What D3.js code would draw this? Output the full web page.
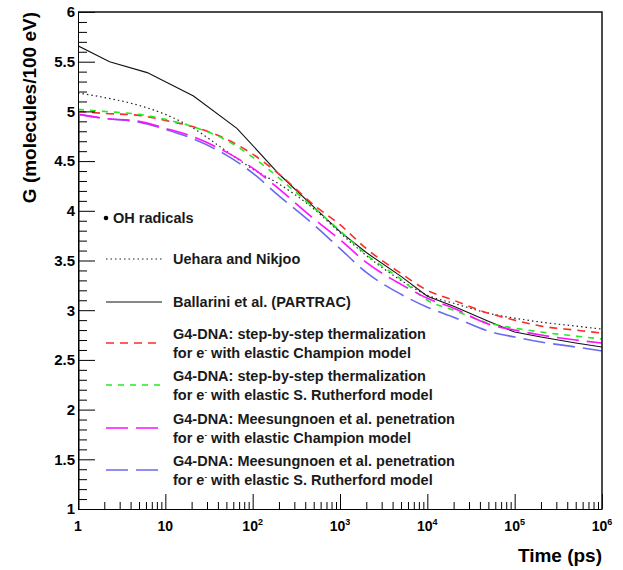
<!DOCTYPE html>
<html>
<head>
<meta charset="utf-8">
<script src="https://cdn.jsdelivr.net/npm/d3@7"></script>
<style>
  body { margin: 0; background: #fff; }
  svg { display: block; font-family: 'Liberation Sans', Arial, sans-serif; font-weight: bold; }
</style>
</head>
<body>
<script>
// OH radical yield vs time

var times = [1, 2, 5, 10, 20, 50, 100, 200, 500, 1000, 2000, 5000, 1e4, 2e4, 5e4, 1e5, 2e5, 5e5, 1e6];

var stepChampion   = [5.00, 4.98, 4.96, 4.91, 4.85, 4.72, 4.57, 4.37, 4.06, 3.86, 3.62, 3.37, 3.20, 3.10, 2.97, 2.90, 2.84, 2.80, 2.77];
var stepRutherford = [5.02, 5.00, 4.97, 4.92, 4.85, 4.71, 4.54, 4.33, 4.03, 3.80, 3.56, 3.31, 3.10, 3.00, 2.87, 2.82, 2.78, 2.74, 2.71];
var penChampion    = [4.97, 4.93, 4.90, 4.83, 4.75, 4.59, 4.43, 4.22, 3.92, 3.71, 3.48, 3.26, 3.12, 3.02, 2.86, 2.80, 2.75, 2.70, 2.67];
var penRutherford  = [4.97, 4.93, 4.89, 4.82, 4.73, 4.56, 4.38, 4.15, 3.86, 3.62, 3.38, 3.16, 3.03, 2.93, 2.79, 2.73, 2.68, 2.63, 2.59];
var uehara         = [5.185, 5.14, 5.06, 4.97, 4.84, 4.60, 4.42, 4.27, 4.02, 3.78, 3.55, 3.30, 3.15, 3.07, 2.97, 2.92, 2.88, 2.84, 2.81];

var ballariniTimes = [1, 2.3, 6.2, 21, 66, 200, 500, 1000, 2000, 5000, 1e4, 2e4, 5e4, 1e5, 2e5, 5e5, 1e6];
var ballarini      = [5.66, 5.50, 5.39, 5.155, 4.83, 4.37, 4.04, 3.79, 3.58, 3.34, 3.14, 3.04, 2.89, 2.78, 2.73, 2.67, 2.63];

var yMajor = [1, 1.5, 2, 2.5, 3, 3.5, 4, 4.5, 5, 5.5, 6];
var xMajor = [1, 10, 100, 1000, 1e4, 1e5, 1e6];
var xLabels = ['1', '10', '10|2', '10|3', '10|4', '10|5', '10|6'];

var legendText = [
  ['Uehara and Nikjoo'],
  ['Ballarini et al. (PARTRAC)'],
  ['G4-DNA: step-by-step thermalization', 'for e| with elastic Champion model'],
  ['G4-DNA: step-by-step thermalization', 'for e| with elastic S. Rutherford model'],
  ['G4-DNA: Meesungnoen et al. penetration', 'for e| with elastic Champion model'],
  ['G4-DNA: Meesungnoen et al. penetration', 'for e| with elastic S. Rutherford model']
];

var width = 623, height = 570;
var pLeft = 78, pRight = 602, pTop = 12, pBottom = 509;

var svg = d3.select('body').append('svg')
  .attr('width', width)
  .attr('height', height);

var x = d3.scaleLog().domain([1, 1e6]).range([pLeft, pRight]);
var y = d3.scaleLinear().domain([1, 6]).range([pBottom, pTop]);

svg.append('clipPath').attr('id', 'plot')
  .append('rect')
  .attr('x', pLeft).attr('y', pTop)
  .attr('width', pRight - pLeft).attr('height', pBottom - pTop);

// series
var series = [
  { t: times, g: uehara, color: '#222', dash: '1.5,3', w: 1.2, curve: d3.curveMonotoneX },
  { t: ballariniTimes, g: ballarini, color: '#111', dash: null, w: 1.1, curve: d3.curveLinear },
  { t: times, g: stepChampion, color: '#ff2a2a', dash: '8,6', w: 1.6, curve: d3.curveMonotoneX, drop: true },
  { t: times, g: stepRutherford, color: '#22ee22', dash: '6,6', w: 1.6, curve: d3.curveMonotoneX, drop: true },
  { t: times, g: penRutherford, color: '#6a6af0', dash: '22,8', w: 1.6, curve: d3.curveMonotoneX, drop: true },
  { t: times, g: penChampion, color: '#ff11ff', dash: '22,8', w: 1.6, curve: d3.curveMonotoneX, drop: true }
];

var plot = svg.append('g').attr('clip-path', 'url(#plot)');

series.forEach(function(s) {
  var pts = s.t.map(function(t, i) { return [t, s.g[i]]; });
  var line = d3.line()
    .x(function(d) { return x(d[0]); })
    .y(function(d) { return y(d[1]); })
    .curve(s.curve);
  plot.append('path')
    .attr('d', line(pts))
    .attr('fill', 'none')
    .attr('stroke', s.color)
    .attr('stroke-width', s.w)
    .attr('stroke-dasharray', s.dash);
  if (s.drop) {
    // histograms rise from zero at the first bin
    plot.append('path')
      .attr('d', d3.line()([[x(1) + 0.8, y(1)], [x(1) + 0.8, y(s.g[0])]]))
      .attr('stroke', s.color)
      .attr('stroke-width', 1.6);
  }
});

// y axis
var yMinor = d3.range(10, 61).map(function(v) { return v / 10; })
  .filter(function(v) { return yMajor.indexOf(v) < 0; });

svg.append('g')
  .attr('transform', 'translate(' + pLeft + ',0)')
  .call(d3.axisLeft(y).tickValues(yMinor).tickSizeInner(-9).tickSizeOuter(0).tickFormat(''))
  .call(function(g) { g.select('.domain').remove(); });

var yAxis = svg.append('g')
  .attr('transform', 'translate(' + pLeft + ',0)')
  .call(d3.axisLeft(y).tickValues(yMajor).tickSizeInner(-17).tickSizeOuter(0).tickPadding(3)
    .tickFormat(function(d) { return d; }));
yAxis.selectAll('text').attr('font-size', 15).attr('font-family', null).attr('fill', '#000');
yAxis.selectAll('line, path').attr('stroke', '#000');

// x axis
var xMinor = [];
for (var dec = 1; dec < 1e6; dec *= 10) {
  for (var k = 2; k < 10; k++) xMinor.push(dec * k);
}

svg.append('g')
  .attr('transform', 'translate(0,' + pBottom + ')')
  .call(d3.axisBottom(x).tickValues(xMinor).tickSizeInner(-7).tickSizeOuter(0).tickFormat(''))
  .call(function(g) { g.select('.domain').remove(); });

var xAxis = svg.append('g')
  .attr('transform', 'translate(0,' + pBottom + ')')
  .call(d3.axisBottom(x).tickValues(xMajor).tickSizeInner(-15).tickSizeOuter(0).tickFormat(''));
xAxis.selectAll('line, path').attr('stroke', '#000');

svg.selectAll('.xlab').data(xMajor).enter().append('text')
  .attr('class', 'xlab')
  .attr('x', function(d) { return x(d); })
  .attr('y', pBottom + 22)
  .attr('text-anchor', 'middle')
  .attr('font-size', 14)
  .each(function(d, i) {
    var parts = xLabels[i].split('|');
    var t = d3.select(this);
    t.append('tspan').text(parts[0]);
    if (parts[1]) t.append('tspan').attr('dy', -6).attr('font-size', 9).text(parts[1]);
  });

// frame top and right
svg.append('path')
  .attr('d', d3.line()([[pLeft, pTop], [pRight, pTop], [pRight, pBottom]]))
  .attr('fill', 'none')
  .attr('stroke', '#111')
  .attr('stroke-width', 1.5);

// titles
svg.append('text')
  .attr('transform', 'translate(36,' + pTop + ') rotate(-90)')
  .attr('text-anchor', 'end')
  .attr('font-size', 19)
  .text('G (molecules/100 eV)');

svg.append('text')
  .attr('x', pRight)
  .attr('y', 562)
  .attr('text-anchor', 'end')
  .attr('font-size', 19)
  .text('Time (ps)');

// legend
var legend = svg.append('g').attr('fill', '#1a1a1a').attr('font-size', 14.5);

legend.append('circle').attr('cx', 106).attr('cy', 218).attr('r', 2.3).attr('fill', '#000');
legend.append('text').attr('x', 113).attr('y', 223).text('OH radicals');

var legendY = [259, 302, 343, 385, 428, 470];

legendText.forEach(function(lines, i) {
  var s = series[[0, 1, 2, 3, 5, 4][i]];
  var ly = legendY[i];
  legend.append('path')
    .attr('d', d3.line()([[106, ly], [162, ly]]))
    .attr('stroke', s.color)
    .attr('stroke-width', s.w)
    .attr('stroke-dasharray', s.dash);
  lines.forEach(function(txt, j) {
    var baseY = lines.length === 1 ? ly + 5 : ly - 4 + j * 19;
    var t = legend.append('text').attr('x', 173).attr('y', baseY);
    var parts = txt.split('|');
    t.append('tspan').text(parts[0]);
    if (parts.length > 1) {
      t.append('tspan').attr('dy', -6).attr('font-size', 8).text('-');
      t.append('tspan').attr('dy', 6).text(parts[1]);
    }
  });
});
</script>
</body>
</html>
